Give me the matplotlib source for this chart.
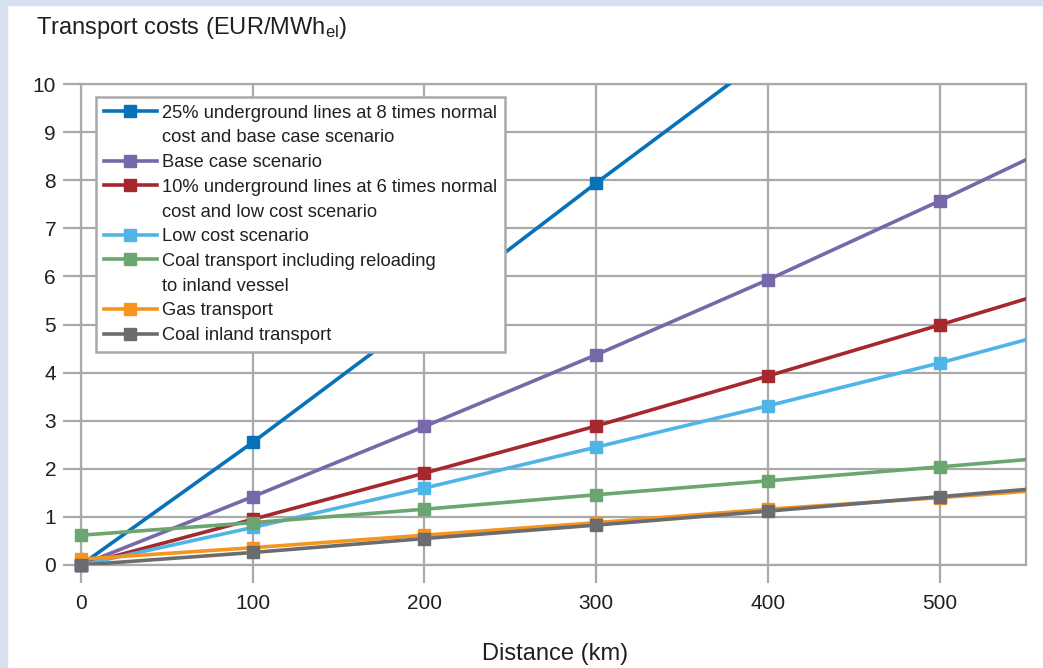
import numpy as np
import matplotlib
matplotlib.use("Agg")
import matplotlib.pyplot as plt
from matplotlib.lines import Line2D
from matplotlib.patches import Rectangle

plt.rcParams['font.family'] = ['Liberation Sans', 'DejaVu Sans']
plt.rcParams['mathtext.default'] = 'regular'

# distance in km (600 only carries the lines past the right edge)
distance = [0, 100, 200, 300, 400, 500, 600]

# transport costs EUR/MWh_el
underground_25 = [0.0, 2.55, 5.22, 7.94, 10.6, 13.3, 16.0]
base_case = [0.0, 1.42, 2.88, 4.37, 5.93, 7.57, 9.27]
underground_10 = [0.0, 0.95, 1.91, 2.89, 3.93, 4.99, 6.07]
low_cost = [0.0, 0.78, 1.60, 2.45, 3.31, 4.20, 5.16]
coal_reloading = [0.62, 0.88, 1.16, 1.46, 1.75, 2.04, 2.34]
gas_transport = [0.12, 0.36, 0.62, 0.88, 1.16, 1.40, 1.66]
coal_inland = [0.0, 0.26, 0.55, 0.83, 1.12, 1.42, 1.72]

series = [underground_25, base_case, underground_10, low_cost,
          coal_reloading, gas_transport, coal_inland]
colors = ['#0872b9', '#7668a9', '#a6282f', '#50b4e6', '#6ba56f', '#f7941d', '#6b6c70']
labels = [["25% underground lines at 8 times normal", "cost and base case scenario"],
          ["Base case scenario"],
          ["10% underground lines at 6 times normal", "cost and low cost scenario"],
          ["Low cost scenario"],
          ["Coal transport including reloading", "to inland vessel"],
          ["Gas transport"],
          ["Coal inland transport"]]

grid_col = '#a9a9a9'
text_col = '#231f20'

fig = plt.figure(figsize=(10.43, 6.68), dpi=100)
fig.patches.append(Rectangle((0, 0), 7 / 1043, 1, transform=fig.transFigure,
                             color='#d6e0f1', zorder=0))
fig.patches.append(Rectangle((0, 1 - 5 / 668), 1, 5 / 668, transform=fig.transFigure,
                             color='#d6e0f1', zorder=0))

ax = fig.add_axes([81 / 1043, 1 - 565 / 668, 944.5 / 1043, 481 / 668])
ax.set_xlim(0, 550)
ax.set_ylim(0, 10)
ax.set_xticks(range(0, 501, 100))
ax.set_yticks(range(0, 11))
ax.grid(True, color=grid_col, lw=1.6, zorder=0)
ax.set_axisbelow(True)
for s in ax.spines.values():
    s.set_color(grid_col)
    s.set_linewidth(1.6)
ax.tick_params(axis='both', length=13, width=1.6, color=grid_col,
               labelsize=15, labelcolor=text_col)
ax.tick_params(axis='x', pad=8)
ax.tick_params(axis='y', pad=5)

handles = []
leg_labels = []
for vals, col, lab in zip(series, colors, labels):
    x = np.array(distance)
    y = np.array(vals)
    ax.plot(x, y, color=col, lw=2.6, solid_capstyle='butt', zorder=3)
    keep = (x <= 550) & (y <= 10)
    ax.plot(x[keep], y[keep], ls='none', marker='s', ms=8, color=col,
            clip_on=False, zorder=4)
    handles.append(Line2D([], [], color=col, lw=2.6, marker='s', ms=8))
    leg_labels.append(lab[0])
    for extra in lab[1:]:
        handles.append(Line2D([], [], color='none'))
        leg_labels.append(extra)

leg = ax.legend(handles, leg_labels, loc='upper left',
                bbox_to_anchor=(15 / 944.5, 1 - 13 / 481), borderaxespad=0,
                fontsize=13.2, handlelength=2.9, handletextpad=0.3,
                labelspacing=0.42, borderpad=0.42, fancybox=False,
                framealpha=1, edgecolor=grid_col)
leg.get_frame().set_linewidth(1.8)
for t in leg.get_texts():
    t.set_color(text_col)

fig.text(36 / 1043, 1 - 34 / 668, "Transport costs (EUR/MWh$_{el}$)",
         fontsize=17, color=text_col, va='baseline', ha='left')
fig.text(555 / 1043, 1 - 660 / 668, "Distance (km)", fontsize=17,
         color=text_col, va='baseline', ha='center')

fig.savefig("out.png", dpi=100, facecolor='white')
